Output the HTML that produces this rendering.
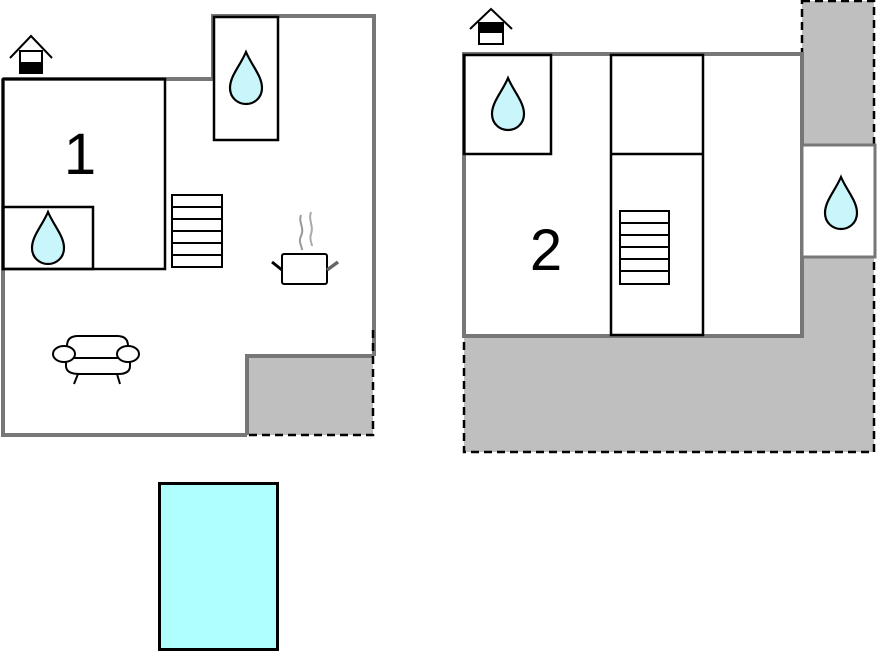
<!DOCTYPE html>
<html><head><style>html,body{margin:0;padding:0;background:#fff}svg{display:block}</style></head>
<body>
<svg width="878" height="652" viewBox="0 0 878 652" xmlns="http://www.w3.org/2000/svg">
<defs>
<path id="drop" d="M0,0 C-6,14 -16,24 -16,36 C-16,46 -8,52 0,52 C8,52 16,46 16,36 C16,24 6,14 0,0Z" fill="#c8f6fa" stroke="#000" stroke-width="2.2"/>
</defs>
<!-- LEFT PLAN -->
<path d="M3,79 H213 V16 H374 V356 M247,435 H3 V79" fill="#fff" stroke="#777" stroke-width="4"/>
<rect x="247" y="356" width="126" height="79" fill="#bfbfbf"/>
<path d="M247,435 V356 H373" fill="none" stroke="#777" stroke-width="4"/>
<path d="M373,330 V435 H247" fill="none" stroke="#000" stroke-width="2.5" stroke-dasharray="8,5"/>
<rect x="3" y="79" width="162" height="190" fill="none" stroke="#000" stroke-width="2.5"/>
<rect x="3" y="207" width="90" height="62" fill="none" stroke="#000" stroke-width="2.5"/>
<rect x="214" y="17" width="64" height="123" fill="none" stroke="#000" stroke-width="2.5"/>
<use href="#drop" x="246" y="52"/>
<use href="#drop" x="48" y="212"/>
<text x="80" y="174" font-family="Liberation Sans, sans-serif" font-size="58" text-anchor="middle">1</text>
<g fill="none" stroke="#000" stroke-width="2">
<rect x="172" y="195" width="50" height="72"/>
<path d="M172,207 H222 M172,219 H222 M172,231 H222 M172,243 H222 M172,255 H222"/>
</g>
<!-- pot -->
<g fill="none">
<rect x="282" y="254" width="45" height="30" rx="2" stroke="#000" stroke-width="2"/>
<path d="M272,262 L282,270" stroke="#000" stroke-width="3"/>
<path d="M327,270 L338,262" stroke="#666" stroke-width="3.5"/>
<path d="M301,215 C298,222 305,228 301,236 C298,242 302,246 302,250" stroke="#999" stroke-width="2"/>
<path d="M311,212 C308,220 314,226 311,234 C309,240 312,243 312,246" stroke="#aaa" stroke-width="2"/>
</g>
<!-- sofa -->
<g fill="#fff" stroke="#000" stroke-width="2">
<path d="M67,366 V346 Q67,336 78,336 H117 Q128,336 128,346 V366 Z"/>
<path d="M66,358 H130 V366 Q130,374 118,374 H80 Q66,374 66,366 Z"/>
<ellipse cx="64" cy="354" rx="11" ry="8"/>
<ellipse cx="128" cy="354" rx="11" ry="8"/>
<path d="M78,374 L74,384 M117,374 L120,384" fill="none"/>
</g>
<!-- house icon left -->
<g>
<path d="M10,58 L31,36 L52,58" fill="none" stroke="#000" stroke-width="2"/>
<rect x="20" y="51" width="22" height="22" fill="#fff" stroke="#000" stroke-width="2"/>
<rect x="20" y="62" width="22" height="11" fill="#000"/>
</g>
<!-- pool -->
<rect x="159.5" y="483.5" width="118" height="166" fill="#b0ffff" stroke="#000" stroke-width="3"/>

<!-- RIGHT PLAN -->
<rect x="802" y="1" width="72" height="144" fill="#bfbfbf" stroke="#000" stroke-width="2.5" stroke-dasharray="8,5"/>
<path d="M464,336 H802 V257 H874 V452 H464 Z" fill="#bfbfbf" stroke="#000" stroke-width="2.5" stroke-dasharray="8,5"/>
<rect x="464" y="54" width="338" height="282" fill="#fff" stroke="#777" stroke-width="4"/>
<rect x="802" y="145" width="73" height="112" fill="#fff" stroke="#777" stroke-width="3"/>
<g fill="none" stroke="#000" stroke-width="2.5">
<rect x="464" y="55" width="87" height="99"/>
<rect x="611" y="55" width="92" height="280"/>
<path d="M611,154 H703"/>
</g>
<use href="#drop" x="508" y="78"/>
<use href="#drop" x="841" y="177"/>
<text x="546" y="270" font-family="Liberation Sans, sans-serif" font-size="58" text-anchor="middle">2</text>
<g fill="none" stroke="#000" stroke-width="2">
<rect x="620" y="211" width="49" height="73"/>
<path d="M620,223 H669 M620,235 H669 M620,247 H669 M620,259 H669 M620,271 H669"/>
</g>
<g>
<path d="M470,29 L491,9 L512,29" fill="none" stroke="#000" stroke-width="2"/>
<rect x="479" y="23" width="24" height="21" fill="#fff" stroke="#000" stroke-width="2"/>
<rect x="479" y="23" width="24" height="10" fill="#000"/>
</g>
</svg>
</body></html>
